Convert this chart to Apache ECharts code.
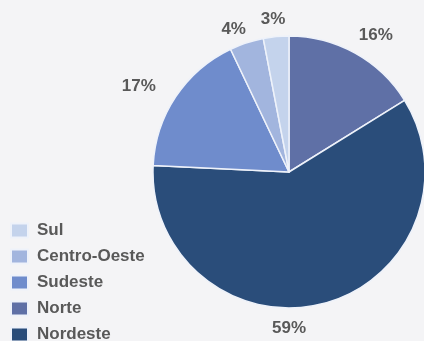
<!DOCTYPE html>
<html>
<head>
<meta charset="utf-8">
<script src="https://cdn.jsdelivr.net/npm/echarts@6/dist/echarts.min.js"></script>
<style>
  html, body { margin: 0; padding: 0; background: #f4f4f6; }
  #chart { width: 424px; height: 341px; }
</style>
</head>
<body>
<div id="chart"></div>
<script>
// Regional shares (%), in drawing order clockwise from 12 o'clock
const regions = ['Norte', 'Nordeste', 'Sudeste', 'Centro-Oeste', 'Sul'];
const shares = [16, 59, 17, 4, 3];
const sliceColors = ['#5f70a6', '#2a4d7a', '#6f8ccc', '#a2b5de', '#c4d3ec'];
// Legend reads from the lightest region down to the darkest
const legendOrder = ['Sul', 'Centro-Oeste', 'Sudeste', 'Norte', 'Nordeste'];

const pieCenter = [289, 172];
const pieRadius = 136;

const chart = echarts.init(document.getElementById('chart'), null, { renderer: 'canvas' });

chart.setOption({
  backgroundColor: '#f4f4f6',
  animation: false,
  legend: {
    orient: 'vertical',
    left: 10,
    top: 222,
    padding: 0,
    height: 130,
    data: legendOrder,
    icon: 'rect',
    itemWidth: 17,
    itemHeight: 14,
    itemGap: 9,
    textStyle: {
      fontFamily: 'Liberation Sans, Arial, sans-serif',
      fontSize: 17,
      fontWeight: 'bold',
      color: '#595959',
      padding: [0, 0, 0, 4]
    }
  },
  series: [{
    type: 'pie',
    center: pieCenter,
    radius: pieRadius,
    startAngle: 90,
    clockwise: true,
    avoidLabelOverlap: false,
    itemStyle: {
      borderColor: '#eef2fa',
      borderWidth: 1.5
    },
    label: {
      show: true,
      position: 'outside',
      formatter: '{c}%',
      fontFamily: 'Liberation Sans, Arial, sans-serif',
      fontSize: 17,
      fontWeight: 'bold',
      color: '#595959',
      distanceToLabelLine: -5
    },
    labelLine: {
      show: false,
      length: 18,
      length2: 0
    },
    // Nudge the outside labels; the large share sits centred beneath the pie
    labelLayout: function (p) {
      switch (p.dataIndex) {
        case 0: return { dy: -2 };
        case 1: return { x: pieCenter[0], align: 'center', dy: 7 };
        case 2: return { dx: -10 };
        case 3: return { dy: 4 };
        case 4: return { dx: 6, dy: 1 };
      }
      return {};
    },
    data: regions.map((name, i) => ({
      name: name,
      value: shares[i],
      itemStyle: { color: sliceColors[i] }
    }))
  }]
});
</script>
</body>
</html>
